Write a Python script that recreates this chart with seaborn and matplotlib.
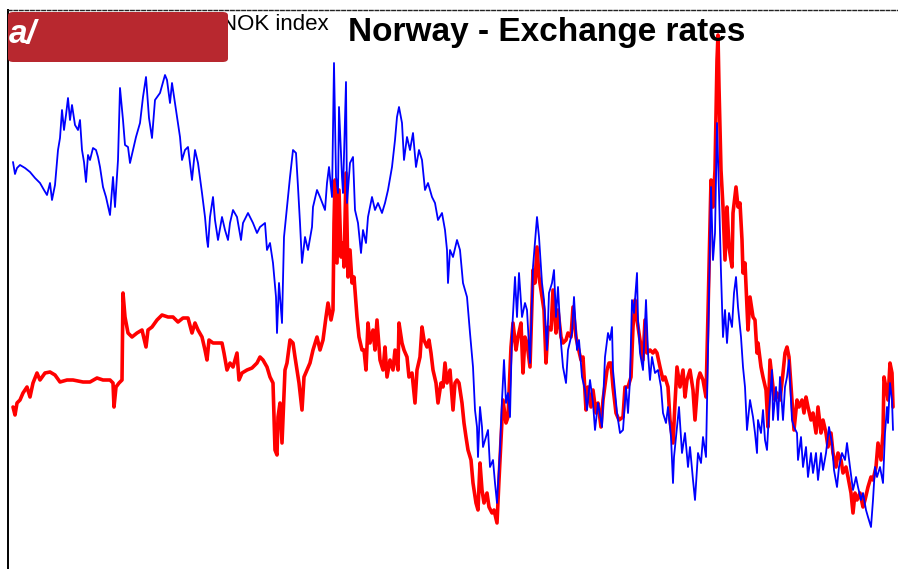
import matplotlib
matplotlib.use("Agg")
import matplotlib.pyplot as plt
import seaborn as sns
import pandas as pd
from matplotlib.patches import FancyBboxPatch

# ---------------- data (arbitrary index units) ----------------
blue_week = [13, 15, 17, 20, 25, 30, 35, 40, 44, 47,
             50, 52, 55, 58, 60, 62, 64, 66, 68, 70,
             72, 75, 78, 80, 82, 84, 86, 88, 90, 93,
             96, 98, 100, 103, 106, 110, 113, 115, 118, 120,
             123, 125, 128, 130, 133, 136, 140, 143, 146, 149,
             152, 155, 160, 165, 167, 170, 172, 175, 177, 180,
             182, 185, 188, 192, 195, 198, 202, 205, 207, 208,
             210, 213, 215, 218, 222, 225, 228, 230, 233, 237,
             241, 243, 248, 250, 253, 257, 260, 265, 267, 270,
             273, 276, 277, 279, 282, 284, 287, 290, 293, 296,
             298, 300, 302, 305, 308, 312, 313, 317, 320, 325,
             327, 329, 332, 334, 336, 338, 339, 342, 343, 346,
             347, 350, 353, 355, 358, 361, 363, 366, 368, 372,
             375, 378, 382, 385, 388, 392, 395, 397, 399, 402,
             404, 407, 410, 413, 416, 419, 422, 425, 428, 432,
             435, 438, 442, 445, 447, 448, 450, 453, 457, 460,
             463, 467, 470, 473, 475, 477, 478, 480, 482, 483,
             486, 488, 490, 493, 495, 497, 500, 502, 504, 506,
             508, 510, 512, 515, 517, 519, 522, 525, 527, 530,
             533, 537, 539, 542, 544, 547, 549, 552, 554, 556,
             558, 561, 563, 566, 568, 572, 574, 577, 579, 582,
             585, 587, 590, 593, 595, 598, 602, 605, 608, 610,
             612, 613, 617, 620, 623, 626, 628, 630, 632, 634,
             637, 638, 640, 643, 646, 648, 650, 652, 655, 658,
             661, 663, 666, 668, 671, 673, 674, 677, 679, 682,
             685, 688, 690, 693, 695, 698, 701, 703, 706, 708,
             711, 713, 715, 717, 719, 721, 723, 725, 727, 729,
             732, 734, 736, 738, 741, 743, 745, 747, 750, 753,
             755, 757, 758, 761, 763, 765, 767, 769, 772, 773,
             776, 778, 780, 783, 785, 787, 789, 792, 794, 797,
             798, 801, 803, 806, 808, 811, 813, 816, 818, 821,
             823, 826, 829, 832, 834, 837, 839, 842, 845, 847,
             850, 853, 856, 858, 861, 863, 866, 868, 871, 873,
             875, 877, 880, 883, 885, 887, 888, 890, 892, 893]
blue_level = [438, 426, 432, 435, 432, 428, 422, 417, 410, 405,
              417, 400, 415, 450, 462, 490, 470, 485, 502, 480,
              495, 475, 470, 480, 450, 438, 418, 445, 440, 452,
              450, 443, 433, 413, 403, 385, 423, 393, 440, 512,
              480, 455, 453, 437, 450, 463, 477, 503, 523, 482,
              462, 500, 507, 525, 520, 497, 517, 497, 483, 463,
              440, 450, 453, 420, 450, 437, 407, 383, 360, 353,
              383, 403, 380, 360, 383, 370, 360, 377, 390, 383,
              360, 377, 387, 383, 377, 367, 373, 377, 350, 357,
              337, 303, 267, 317, 277, 363, 393, 423, 450, 447,
              413, 377, 337, 363, 350, 373, 393, 410, 403, 390,
              417, 433, 403, 537, 423, 407, 493, 423, 407, 518,
              397, 437, 443, 390, 377, 347, 370, 357, 383, 403,
              390, 397, 387, 397, 410, 433, 460, 483, 493, 477,
              440, 463, 450, 467, 433, 450, 440, 410, 417, 403,
              397, 380, 387, 370, 350, 317, 350, 343, 360, 350,
              317, 303, 267, 233, 190, 173, 143, 193, 173, 153,
              163, 170, 133, 140, 117, 97, 150, 200, 240, 197,
              207, 183, 267, 323, 283, 327, 283, 297, 290, 237,
              333, 383, 363, 317, 300, 250, 307, 317, 330, 283,
              313, 257, 233, 217, 250, 267, 303, 250, 260, 223,
              210, 190, 220, 197, 170, 197, 173, 243, 267, 260,
              273, 230, 187, 167, 170, 213, 187, 220, 300, 287,
              327, 280, 247, 230, 300, 247, 220, 243, 227, 230,
              213, 187, 177, 193, 163, 117, 143, 173, 193, 147,
              167, 133, 153, 120, 100, 147, 137, 163, 143, 253,
              413, 340, 367, 477, 407, 327, 263, 290, 257, 287,
              273, 307, 323, 293, 263, 233, 213, 170, 200, 183,
              167, 147, 180, 167, 190, 160, 150, 187, 230, 180,
              213, 180, 223, 180, 213, 223, 240, 180, 173, 167,
              140, 163, 133, 153, 123, 147, 127, 147, 120, 147,
              130, 147, 173, 157, 130, 113, 133, 147, 140, 157,
              133, 110, 123, 113, 100, 107, 90, 83, 73, 100,
              133, 123, 133, 117, 167, 193, 177, 217, 200, 170]

red_week = [13, 15, 17, 20, 23, 27, 30, 33, 37, 40,
            45, 50, 55, 60, 67, 73, 83, 90, 97, 103,
            110, 113, 114, 116, 119, 122, 123, 125, 128, 132,
            137, 142, 146, 148, 152, 157, 162, 168, 173, 178,
            183, 188, 192, 195, 198, 202, 205, 207, 209, 213,
            218, 222, 224, 227, 230, 233, 237, 239, 242, 247,
            252, 257, 260, 263, 267, 270, 273, 275, 277, 278,
            280, 282, 285, 287, 290, 293, 295, 297, 299, 302,
            304, 307, 310, 313, 317, 320, 323, 326, 328, 331,
            333, 334, 335, 337, 339, 341, 343, 344, 346, 348,
            350, 352, 354, 357, 359, 362, 364, 366, 368, 370,
            373, 375, 377, 380, 383, 385, 387, 390, 393, 395,
            398, 399, 402, 404, 407, 409, 412, 415, 417, 420,
            422, 424, 427, 429, 431, 433, 436, 438, 441, 443,
            445, 447, 450, 453, 455, 457, 459, 462, 464, 466,
            468, 471, 473, 476, 478, 480, 482, 484, 487, 489,
            492, 494, 497, 499, 502, 503, 506, 508, 511, 513,
            516, 518, 521, 523, 525, 527, 530, 533, 535, 537,
            539, 542, 544, 546, 548, 551, 553, 556, 558, 561,
            563, 566, 568, 571, 573, 576, 578, 581, 583, 586,
            588, 591, 593, 596, 598, 601, 603, 607, 609, 611,
            613, 616, 619, 623, 625, 628, 631, 633, 635, 637,
            640, 643, 645, 647, 650, 653, 655, 657, 660, 663,
            665, 668, 670, 673, 675, 677, 680, 683, 685, 687,
            690, 693, 695, 698, 700, 703, 706, 708, 711, 713,
            715, 717, 718, 719, 721, 723, 725, 727, 729, 732,
            733, 736, 738, 740, 742, 743, 745, 747, 748, 750,
            753, 755, 757, 758, 761, 763, 766, 768, 770, 773,
            775, 777, 780, 783, 785, 787, 789, 792, 794, 797,
            799, 802, 804, 806, 808, 811, 813, 816, 818, 821,
            823, 826, 828, 831, 833, 836, 838, 841, 843, 846,
            848, 851, 853, 855, 857, 860, 863, 865, 868, 871,
            873, 876, 878, 881, 883, 884, 887, 888, 890, 892,
            893]
red_level = [193, 185, 197, 200, 207, 213, 203, 217, 227, 220,
             227, 228, 225, 218, 220, 220, 218, 218, 222, 220,
             220, 217, 193, 213, 217, 220, 307, 283, 267, 263,
             267, 270, 253, 270, 273, 280, 285, 283, 283, 278,
             282, 282, 267, 277, 270, 263, 250, 240, 260, 257,
             257, 257, 247, 230, 237, 233, 247, 220, 227, 230,
             232, 237, 243, 240, 233, 223, 217, 150, 145, 183,
             197, 157, 230, 237, 260, 257, 243, 230, 217, 190,
             223, 230, 237, 250, 263, 250, 260, 283, 297, 280,
             290, 377, 420, 337, 410, 343, 357, 333, 427, 323,
             350, 317, 323, 283, 263, 250, 250, 230, 277, 257,
             270, 250, 280, 240, 230, 253, 223, 240, 230, 250,
             230, 277, 257, 250, 243, 223, 227, 197, 230, 243,
             273, 260, 253, 260, 247, 230, 217, 197, 217, 213,
             237, 217, 230, 190, 217, 220, 217, 197, 177, 163,
             150, 140, 117, 97, 90, 137, 110, 97, 107, 93,
             87, 90, 77, 120, 180, 200, 177, 183, 253, 277,
             250, 263, 277, 227, 263, 257, 233, 330, 317, 353,
             323, 303, 290, 237, 273, 270, 310, 267, 290, 263,
             257, 260, 267, 263, 293, 263, 253, 240, 243, 190,
             213, 193, 210, 187, 197, 173, 200, 230, 237, 237,
             213, 187, 180, 183, 213, 213, 223, 273, 300, 280,
             260, 240, 280, 247, 250, 247, 250, 247, 233, 220,
             223, 213, 180, 157, 197, 233, 213, 230, 203, 220,
             230, 210, 180, 220, 227, 220, 203, 287, 420, 393,
             430, 540, 565, 513, 430, 393, 340, 393, 353, 333,
             387, 413, 393, 397, 360, 327, 337, 293, 270, 303,
             283, 280, 247, 257, 233, 223, 210, 173, 240, 213,
             200, 207, 200, 227, 247, 253, 243, 200, 170, 200,
             193, 200, 187, 203, 193, 180, 187, 167, 193, 167,
             180, 167, 153, 167, 147, 133, 147, 140, 127, 133,
             123, 107, 87, 107, 100, 107, 93, 100, 113, 123,
             120, 133, 157, 140, 167, 223, 207, 200, 237, 227,
             193]

labels = ["EUR/NOK", "NOK index"]
title = "Norway - Exchange rates"

# ---------------- figure ----------------
sns.set_style("white")
plt.rcParams["font.family"] = ["Liberation Sans", "DejaVu Sans"]

W, H = 898, 569
fig = plt.figure(figsize=(W / 100, H / 100), dpi=100)
ax = fig.add_axes([8 / W, 0.0, 890 / W, (H - 10) / H])

blue = pd.DataFrame({"week": blue_week, "level": blue_level})
red = pd.DataFrame({"week": red_week, "level": red_level})

# red underneath, blue on top
sns.lineplot(data=red, x="week", y="level", color="#ff0000", lw=2.6,
             ax=ax, label=labels[1], zorder=2)
sns.lineplot(data=blue, x="week", y="level", color="#0000ff", lw=1.3,
             ax=ax, label=labels[0], zorder=3)

ax.set_xlim(8, 898)
ax.set_ylim(31, 590)
ax.set_xlabel("")
ax.set_ylabel("")
ax.set_xticks([])
ax.set_yticks([])

for s in ["right", "bottom"]:
    ax.spines[s].set_visible(False)
ax.spines["left"].set_color("black")
ax.spines["left"].set_linewidth(1.4)
ax.spines["top"].set_color("#222222")
ax.spines["top"].set_linewidth(1.0)
ax.spines["top"].set_linestyle((0, (2.5, 1.5)))

# legend: blue entry first, red entry last (mostly hidden behind the badge)
h, l = ax.get_legend_handles_labels()
hmap = dict(zip(l, h))
ax.get_legend().remove()
leg = fig.legend([hmap[labels[0]], hmap[labels[1]]], labels, ncol=2,
                 frameon=False, fontsize=16, loc="center right",
                 bbox_to_anchor=(329 / W, 1 - 24 / H),
                 handlelength=1.6, handletextpad=0.4, columnspacing=1.0,
                 borderaxespad=0.0, borderpad=0.0)
for t in leg.get_texts():
    t.set_color("black")

fig.text(547 / W, 1 - 33 / H, title, ha="center", va="center",
         fontsize=24, fontweight="bold", color="black")

# red badge over the top-left corner
badge = FancyBboxPatch((8 / W, 1 - 62 / H), 220 / W, 50 / H,
                       boxstyle="round,pad=0,rounding_size=0.006",
                       transform=fig.transFigure, facecolor="#b8282f",
                       edgecolor="none", zorder=10)
fig.patches.append(badge)
fig.text(9 / W, 1 - 34 / H, "a/", color="white", fontsize=24,
         fontweight="bold", style="italic", ha="left", va="center", zorder=11)

fig.savefig("out.png", dpi=100)
